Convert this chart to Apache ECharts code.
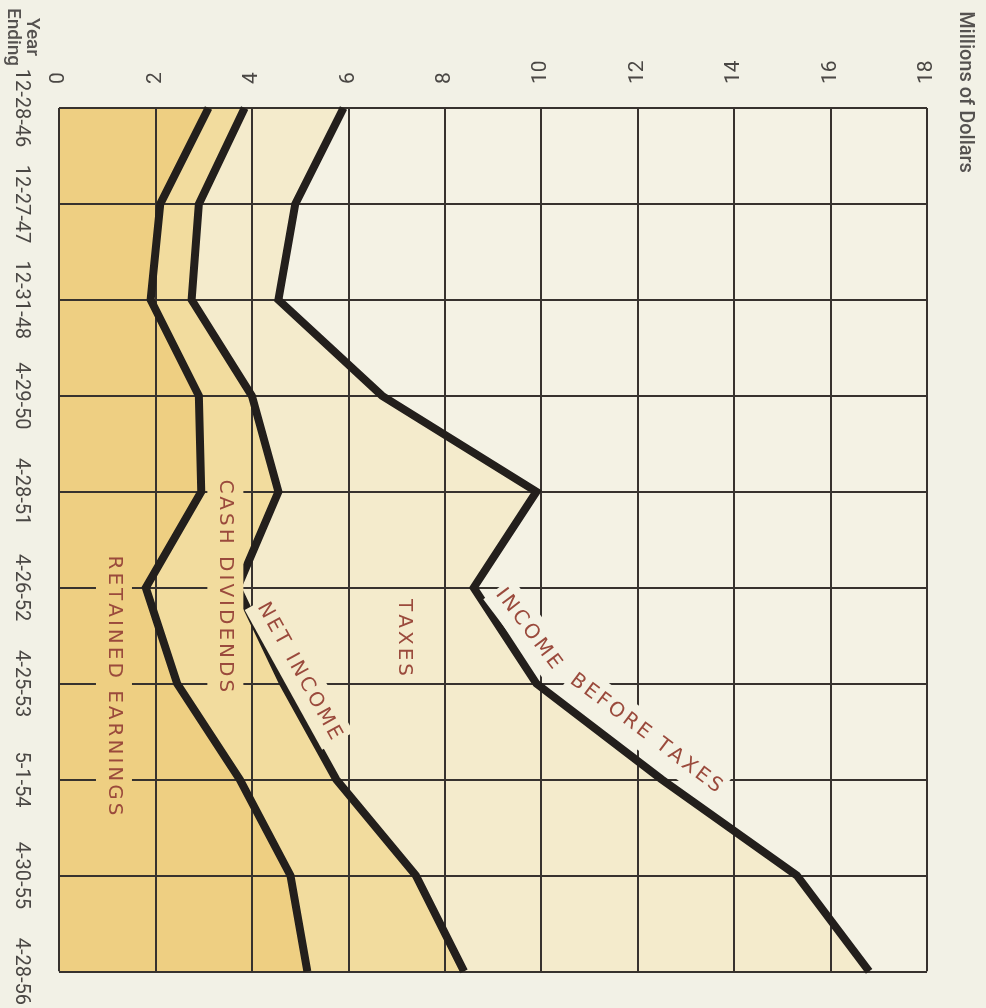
<!DOCTYPE html>
<html>
<head>
<meta charset="utf-8">
<script src="https://cdn.jsdelivr.net/npm/echarts@6/dist/echarts.min.js"></script>
<style>
html,body{margin:0;padding:0;background:#f2f1e6;overflow:hidden;}
#main{width:986px;height:1008px;}
</style>
</head>
<body>
<div id="main"></div>
<script>
// ---- data ----
const categories = ['12-28-46','12-27-47','12-31-48','4-29-50','4-28-51','4-26-52','4-25-53','5-1-54','4-30-55','4-28-56'];
const incomeBeforeTaxes = [5.9, 4.9, 4.55, 6.7, 9.9, 8.6, 9.9, 12.5, 15.3, 16.8];
const netIncome         = [3.85, 2.9, 2.75, 4.0, 4.55, 3.7, 4.65, 5.75, 7.4, 8.4];
const retainedEarnings  = [3.1, 2.1, 1.9, 2.9, 2.95, 1.8, 2.45, 3.75, 4.8, 5.15];
const valueTicks = [0, 18, 2]; // min, max, interval

// annotation texts anchored in data space: [value, category index], angle in degrees
const annotations = [
  {text:'RETAINED EARNINGS', at:[1.14, 6.02], angle:-90, bg:'#eecf82'},
  {text:'CASH DIVIDENDS',    at:[3.45, 4.98], angle:-90, bg:'#f2dc9e'},
  {text:'TAXES',             at:[7.15, 5.52], angle:-90, bg:'#f4ebcc'},
  {text:'NET INCOME',        at:[4.98, 5.87], angle:-61, bg:'#f4ebcc'},
  {text:'INCOME',            at:[9.73, 5.43], angle:-53, bg:'#f4f2e4'},
  {text:'BEFORE TAXES',      at:[12.17, 6.52], angle:-37, bg:'#f4f2e4'}
];

const axisFont = 'Roboto,"Liberation Sans",sans-serif';
const labelFontFamily = '"DejaVu Sans",sans-serif';
const labelFontSize = 20;
const letterGap = 3;
const gridLine = {show:true, interval:0, lineStyle:{color:'#37322e', width:2}};

const chart = echarts.init(document.getElementById('main'), null, {width:986, height:1008});

function areaSeries(name, data, color){
  return {name:name, type:'line', data:data, symbol:'none', z:1, silent:true,
    lineStyle:{width:0}, areaStyle:{color:color, opacity:1}};
}
function lineSeries(name, data){
  return {name:name+' line', type:'line', data:data, symbol:'none', z:3, silent:true,
    lineStyle:{width:8, color:'#231f1c', join:'miter', cap:'butt'}};
}

chart.setOption({
  backgroundColor:'#f2f1e6',
  animation:false,
  grid:{left:59, width:868, top:108, height:870, show:true, backgroundColor:'#f4f2e4', borderWidth:0},
  xAxis:{type:'value', position:'top', min:valueTicks[0], max:valueTicks[1], interval:valueTicks[2], z:2,
    axisLine:{show:false}, axisTick:{show:false}, splitLine:gridLine,
    axisLabel:{rotate:-90, margin:24, color:'#4a4744', fontSize:21, fontFamily:axisFont}},
  yAxis:{type:'category', data:categories, inverse:true, boundaryGap:false, z:2,
    axisLine:{show:false}, axisTick:{show:false}, splitLine:gridLine,
    axisLabel:{rotate:-90, interval:0, margin:28, color:'#4a4744', fontSize:20, fontFamily:axisFont}},
  series:[
    areaSeries('Income Before Taxes', incomeBeforeTaxes, '#f4ebcc'),
    areaSeries('Net Income', netIncome, '#f2dc9e'),
    areaSeries('Retained Earnings', retainedEarnings, '#eecf82'),
    lineSeries('Income Before Taxes', incomeBeforeTaxes),
    lineSeries('Net Income', netIncome),
    lineSeries('Retained Earnings', retainedEarnings)
  ]
});

function toPixel(v, idx){
  const i0 = Math.floor(idx), i1 = Math.min(Math.ceil(idx), categories.length-1), f = idx - i0;
  const p0 = chart.convertToPixel({gridIndex:0}, [v, i0]);
  const p1 = chart.convertToPixel({gridIndex:0}, [v, i1]);
  return [p0[0], p0[1] + (p1[1]-p0[1])*f];
}

// measure characters so the spaced-out lettering can be laid out
const ctx = document.createElement('canvas').getContext('2d');
ctx.font = labelFontSize + 'px ' + labelFontFamily;

const graphics = annotations.map(function(a){
  const p = toPixel(a.at[0], a.at[1]);
  const chars = a.text.split('');
  const widths = chars.map(function(c){ return ctx.measureText(c).width; });
  const total = widths.reduce(function(s,w){return s+w;},0) + letterGap*(chars.length-1);
  const children = [{type:'rect', shape:{x:-total/2-3, y:-labelFontSize/2-8, width:total+6, height:labelFontSize+16},
    style:{fill:a.bg}, z:10}];
  let cx = -total/2;
  chars.forEach(function(c,i){
    children.push({type:'text', x:cx, y:0, z:11,
      style:{text:c, fill:'#9a4a3c', font:labelFontSize+'px '+labelFontFamily, align:'left', verticalAlign:'middle'}});
    cx += widths[i] + letterGap;
  });
  return {type:'group', x:p[0], y:p[1], rotation:a.angle*Math.PI/180, z:10, silent:true, children:children};
});
graphics.push({type:'text', x:965, y:92, rotation:-Math.PI/2, z:10, silent:true,
  style:{text:'Millions of Dollars', fill:'#555250', font:'500 20px '+axisFont, align:'center', verticalAlign:'middle'}});
graphics.push({type:'text', x:22, y:37, rotation:-Math.PI/2, z:10, silent:true,
  style:{text:'Year\nEnding', fill:'#555250', font:'500 19px '+axisFont, align:'center', verticalAlign:'middle', lineHeight:19}});

chart.setOption({graphic:graphics});
</script>
</body>
</html>
